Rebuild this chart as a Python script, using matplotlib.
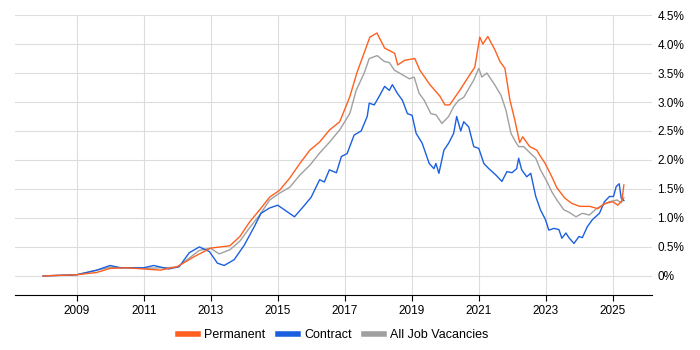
import matplotlib
matplotlib.use("Agg")
import matplotlib.pyplot as plt
from matplotlib.ticker import FuncFormatter

plt.rcParams['font.family'] = ['Liberation Sans', 'DejaVu Sans']

perm_years = [2008.0, 2009.0, 2009.6, 2010.0, 2010.5, 2011.0, 2011.5, 2012.0, 2012.5, 2013.0,
              2013.57, 2013.87, 2014.16, 2014.46, 2014.76, 2015.06, 2015.36, 2015.66, 2015.96, 2016.25,
              2016.55, 2016.85, 2017.15, 2017.36,
              2017.75, 2017.96, 2018.19, 2018.49, 2018.58, 2018.79, 2019.09, 2019.24, 2019.54, 2019.84,
              2019.99, 2020.13, 2020.43, 2020.73, 2020.88, 2021.03, 2021.12, 2021.27, 2021.48, 2021.63,
              2021.78, 2021.93, 2022.07, 2022.22, 2022.31, 2022.52, 2022.73, 2022.82, 2022.97, 2023.18,
              2023.33, 2023.57, 2023.78, 2024.01, 2024.31, 2024.55, 2024.76, 2025.0, 2025.15, 2025.27,
              2025.33]
perm_vals = [0.0, 0.02, 0.06, 0.13, 0.14, 0.12, 0.10, 0.16, 0.33, 0.48,
             0.52, 0.68, 0.93, 1.14, 1.36, 1.48, 1.69, 1.94, 2.17, 2.31,
             2.52, 2.66, 3.09, 3.5,
             4.12, 4.19, 3.93, 3.84, 3.64, 3.72, 3.75, 3.55, 3.3, 3.1,
             2.95, 2.95, 3.2, 3.47, 3.6, 4.12, 4.0, 4.13, 3.9, 3.7,
             3.58, 3.03, 2.7, 2.3, 2.4, 2.23, 2.17, 2.08, 1.95, 1.71,
             1.52, 1.34, 1.25, 1.2, 1.2, 1.16, 1.25, 1.28, 1.22, 1.3,
             1.57]

contract_years = [2008.0, 2009.0, 2009.6, 2010.0, 2010.3, 2011.0, 2011.3, 2011.75, 2012.06, 2012.36,
                  2012.66, 2012.96, 2013.2, 2013.4, 2013.7, 2014.0, 2014.3, 2014.5, 2014.75, 2015.0,
                  2015.2, 2015.5, 2015.8, 2016.0, 2016.25, 2016.39, 2016.54, 2016.75, 2016.9, 2017.07,
                  2017.28, 2017.49, 2017.67, 2017.73, 2017.88, 2018.03, 2018.19, 2018.33, 2018.42, 2018.57,
                  2018.72, 2018.87, 2019.01, 2019.13, 2019.31, 2019.52, 2019.66, 2019.72, 2019.81, 2019.96,
                  2020.1, 2020.25, 2020.34, 2020.46, 2020.55, 2020.7, 2020.85, 2021.0, 2021.15, 2021.3,
                  2021.51, 2021.69, 2021.84, 2021.99, 2022.13, 2022.19, 2022.28, 2022.43, 2022.55, 2022.7,
                  2022.84, 2022.99, 2023.09, 2023.24, 2023.39, 2023.48, 2023.6, 2023.69, 2023.84, 2023.99,
                  2024.09, 2024.24, 2024.39, 2024.6, 2024.75, 2024.9, 2025.02, 2025.1, 2025.19, 2025.25,
                  2025.33]
contract_vals = [0.0, 0.02, 0.1, 0.18, 0.14, 0.14, 0.18, 0.12, 0.16, 0.4,
                 0.5, 0.42, 0.22, 0.18, 0.28, 0.53, 0.85, 1.08, 1.17, 1.22,
                 1.14, 1.02, 1.22, 1.36, 1.66, 1.62, 1.83, 1.78, 2.06, 2.11,
                 2.43, 2.5, 2.75, 2.98, 2.95, 3.1, 3.27, 3.2, 3.3, 3.15,
                 3.03, 2.8, 2.77, 2.46, 2.29, 1.94, 1.85, 1.94, 1.77, 2.17,
                 2.29, 2.46, 2.75, 2.5, 2.66, 2.57, 2.23, 2.2, 1.94, 1.85,
                 1.74, 1.63, 1.8, 1.78, 1.85, 2.03, 1.83, 1.71, 1.77, 1.37,
                 1.14, 0.97, 0.79, 0.82, 0.8, 0.65, 0.74, 0.66, 0.56, 0.68,
                 0.66, 0.85, 0.97, 1.08, 1.28, 1.37, 1.37, 1.54, 1.59, 1.34,
                 1.3]

all_years = [2008.0, 2009.0, 2010.0, 2011.0, 2012.0, 2012.66, 2012.99, 2013.25, 2013.57, 2013.87,
             2014.16, 2014.46, 2014.76, 2015.06, 2015.36, 2015.66, 2015.96, 2016.25, 2016.55, 2016.85,
             2017.15, 2017.34, 2017.58, 2017.73, 2017.97, 2018.18, 2018.33, 2018.48, 2018.72,
             2018.93, 2019.07, 2019.22, 2019.37, 2019.57, 2019.72, 2019.9, 2020.1, 2020.25, 2020.4,
             2020.55, 2020.7, 2020.85, 2021.0, 2021.09, 2021.24, 2021.45, 2021.66, 2021.81, 2021.96,
             2022.1, 2022.19, 2022.34, 2022.55, 2022.7, 2022.84, 2023.03, 2023.18, 2023.33, 2023.54,
             2023.69, 2023.9, 2024.09, 2024.3, 2024.51, 2024.69, 2024.9, 2025.13, 2025.25, 2025.33]
all_vals = [0.0, 0.02, 0.15, 0.13, 0.15, 0.44, 0.48, 0.38, 0.45, 0.6,
            0.83, 1.05, 1.31, 1.43, 1.53, 1.74, 1.91, 2.12, 2.31, 2.52,
            2.8, 3.2, 3.5, 3.75, 3.8, 3.7, 3.68, 3.55, 3.47,
            3.4, 3.43, 3.15, 3.03, 2.8, 2.78, 2.63, 2.75, 2.92, 3.03,
            3.08, 3.23, 3.38, 3.58, 3.43, 3.5, 3.32, 3.12, 2.86, 2.46,
            2.31, 2.23, 2.23, 2.11, 2.03, 1.83, 1.63, 1.45, 1.31, 1.14,
            1.1, 1.02, 1.08, 1.05, 1.16, 1.22, 1.28, 1.31, 1.26, 1.35]

x_ticks = [2009, 2011, 2013, 2015, 2017, 2019, 2021, 2023, 2025]
y_ticks = [0, 0.5, 1.0, 1.5, 2.0, 2.5, 3.0, 3.5, 4.0, 4.5]

fig = plt.figure(figsize=(7, 3.5), dpi=100)
ax = fig.add_axes([0.021, 0.157, 0.91, 0.8])

ax.plot(all_years, all_vals, color='#a0a0a0', lw=1, label='All Job Vacancies')
ax.plot(contract_years, contract_vals, color='#1a5fe0', lw=1, label='Contract')
ax.plot(perm_years, perm_vals, color='#ff5f1f', lw=1, label='Permanent')

ax.set_xlim(2007.15, 2026.16)
ax.set_ylim(-0.33, 4.5)
ax.set_xticks(x_ticks)
ax.set_yticks(y_ticks)
ax.yaxis.tick_right()
ax.yaxis.set_major_formatter(FuncFormatter(lambda v, p: '0%' if v == 0 else f'{v:.1f}%'))
ax.tick_params(axis='y', length=0, labelsize=8.5, pad=4)
ax.tick_params(axis='x', length=4, labelsize=8.5, color='black')
ax.grid(True, color='#dddddd', lw=0.8)
ax.set_axisbelow(True)
for s in ['top', 'left', 'right']:
    ax.spines[s].set_visible(False)
ax.spines['bottom'].set_color('black')

handles, labels = ax.get_legend_handles_labels()
order = [2, 1, 0]
leg = fig.legend([handles[i] for i in order], [labels[i] for i in order],
                 loc='center', bbox_to_anchor=(0.476, 0.043), ncol=3, frameon=False,
                 fontsize=9, handlelength=1.6, columnspacing=1.0, handletextpad=0.5)
for h in leg.legend_handles:
    h.set_linewidth(4)

fig.savefig('out.png', dpi=100)
